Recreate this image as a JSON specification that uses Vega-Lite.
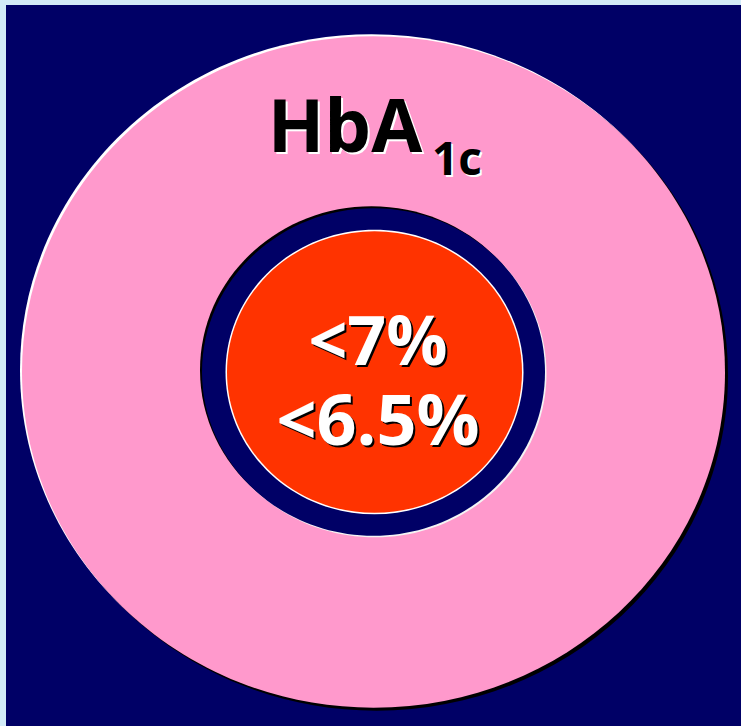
{
  "$schema": "https://vega.github.io/schema/vega-lite/v6.json",
  "width": 741,
  "height": 726,
  "autosize": "none",
  "padding": 0,
  "background": "#d3ebf8",
  "config": {"view": {"stroke": null}},
  "datasets": {
    "panel": [{"x0": 6, "x1": 741, "y0": 5, "y1": 726}],
    "rings": [
      {"name": "pink highlight", "cx": 371.5, "cy": 370, "s": 494209, "c": "#ffffff"},
      {"name": "pink shadow", "cx": 376.5, "cy": 375, "s": 494209, "c": "#000000"},
      {"name": "pink", "cx": 373.5, "cy": 372, "s": 494209, "c": "#ff99cc"},
      {"name": "ring highlight", "cx": 375, "cy": 373.5, "s": 117649, "c": "#f4f4f4"},
      {"name": "ring shadow", "cx": 371.5, "cy": 370, "s": 117649, "c": "#000000"},
      {"name": "ring", "cx": 373.5, "cy": 372, "s": 117649, "c": "#000066"},
      {"name": "red edge", "cx": 374.5, "cy": 372, "s": 88804, "c": "#ffffff"},
      {"name": "red", "cx": 374.5, "cy": 372, "s": 87025, "c": "#ff3300"}
    ],
    "centered": [
      {"label": "HbA", "tx": 347, "ty": 154, "fs": 74, "c": "#ffffff"},
      {"label": "HbA", "tx": 345, "ty": 152, "fs": 74, "c": "#000000"},
      {"label": "<7%", "tx": 380, "ty": 367, "fs": 68, "c": "#000000"},
      {"label": "<7%", "tx": 378, "ty": 365, "fs": 68, "c": "#ffffff"},
      {"label": "<6.5%", "tx": 380, "ty": 447, "fs": 70, "c": "#000000"},
      {"label": "<6.5%", "tx": 378, "ty": 445, "fs": 70, "c": "#ffffff"}
    ],
    "subscript": [
      {"label": "1c", "tx": 434, "ty": 177, "fs": 46, "c": "#ffffff"},
      {"label": "1c", "tx": 432, "ty": 175, "fs": 46, "c": "#000000"}
    ]
  },
  "layer": [
    {
      "data": {"name": "panel"},
      "mark": {"type": "rect", "color": "#000066"},
      "encoding": {
        "x": {"field": "x0", "type": "quantitative", "scale": {"domain": [0, 741], "range": [0, 741], "nice": false, "zero": false}, "axis": null},
        "x2": {"field": "x1"},
        "y": {"field": "y0", "type": "quantitative", "scale": {"domain": [0, 726], "range": [0, 726], "nice": false, "zero": false}, "axis": null},
        "y2": {"field": "y1"}
      }
    },
    {
      "data": {"name": "rings"},
      "mark": {
        "type": "point",
        "filled": true,
        "opacity": 1,
        "strokeWidth": 0,
        "shape": "M -1 0 C -1 -0.5274 -0.5523 -0.955 0 -0.955 C 0.5523 -0.955 1 -0.5274 1 0 C 1 0.5274 0.5523 0.955 0 0.955 C -0.5523 0.955 -1 0.5274 -1 0 Z"
      },
      "encoding": {
        "x": {"field": "cx", "type": "quantitative", "scale": {"domain": [0, 741], "range": [0, 741], "nice": false, "zero": false}, "axis": null},
        "y": {"field": "cy", "type": "quantitative", "scale": {"domain": [0, 726], "range": [0, 726], "nice": false, "zero": false}, "axis": null},
        "size": {"field": "s", "type": "quantitative", "scale": null, "legend": null},
        "color": {"field": "c", "type": "nominal", "scale": null, "legend": null}
      }
    },
    {
      "data": {"name": "centered"},
      "mark": {"type": "text", "font": "Open Sans", "fontWeight": "bold", "align": "center", "baseline": "alphabetic"},
      "encoding": {
        "x": {"field": "tx", "type": "quantitative", "scale": {"domain": [0, 741], "range": [0, 741], "nice": false, "zero": false}, "axis": null},
        "y": {"field": "ty", "type": "quantitative", "scale": {"domain": [0, 726], "range": [0, 726], "nice": false, "zero": false}, "axis": null},
        "text": {"field": "label"},
        "size": {"field": "fs", "type": "quantitative", "scale": null, "legend": null},
        "color": {"field": "c", "type": "nominal", "scale": null, "legend": null}
      }
    },
    {
      "data": {"name": "subscript"},
      "mark": {"type": "text", "font": "Open Sans", "fontWeight": "bold", "align": "left", "baseline": "alphabetic"},
      "encoding": {
        "x": {"field": "tx", "type": "quantitative", "scale": {"domain": [0, 741], "range": [0, 741], "nice": false, "zero": false}, "axis": null},
        "y": {"field": "ty", "type": "quantitative", "scale": {"domain": [0, 726], "range": [0, 726], "nice": false, "zero": false}, "axis": null},
        "text": {"field": "label"},
        "size": {"field": "fs", "type": "quantitative", "scale": null, "legend": null},
        "color": {"field": "c", "type": "nominal", "scale": null, "legend": null}
      }
    }
  ]
}
